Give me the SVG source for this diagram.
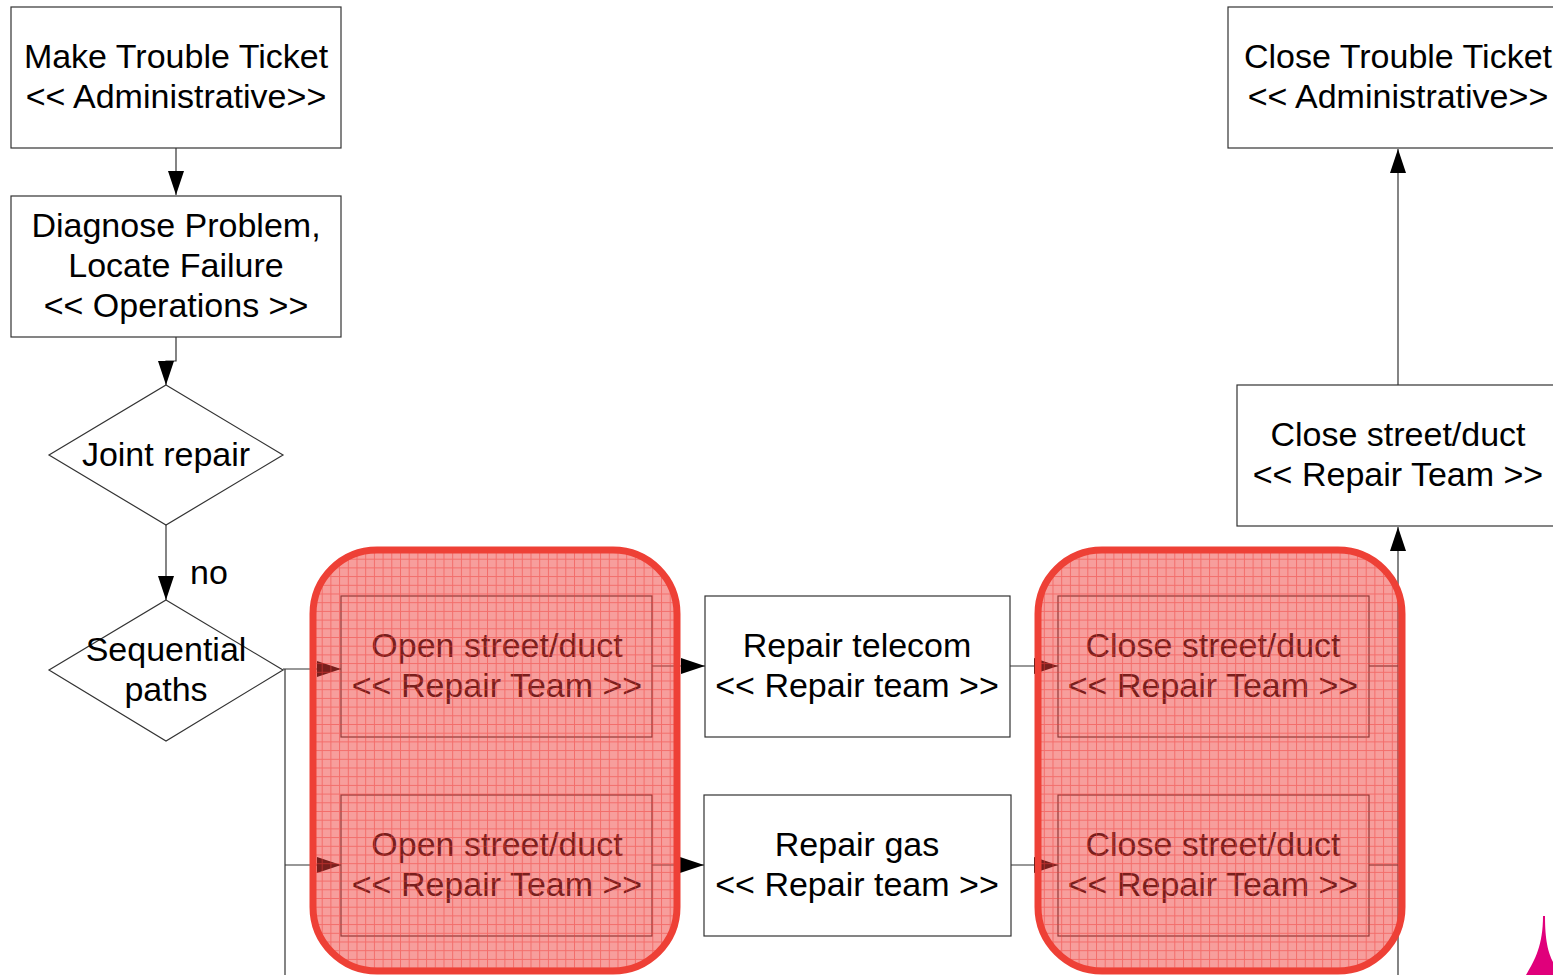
<svg xmlns="http://www.w3.org/2000/svg" width="1553" height="975" viewBox="0 0 1553 975">
<style>
.box{fill:#ffffff;stroke:#333333;stroke-width:1.2}
.t{font-family:"Liberation Sans",Arial,sans-serif;font-size:34px;fill:#000000;text-anchor:middle}
.c{fill:none;stroke:#333333;stroke-width:1.2}
.ov{fill:url(#grid);stroke:#ee4036;stroke-width:7}
</style>
<defs>
<marker id="arr" markerUnits="userSpaceOnUse" markerWidth="24" markerHeight="16" refX="24" refY="8" orient="auto" viewBox="0 0 24 16">
<path d="M0,0 L24,8 L0,16 Z" fill="#000000"/>
</marker>
<pattern id="grid" patternUnits="userSpaceOnUse" width="8.7" height="8.7" x="313" y="550">
<rect width="8.7" height="8.7" fill="rgb(240,62,58)" fill-opacity="0.5"/>
<path d="M0,0.5 H8.7 M0.5,0 V8.7" stroke="rgb(240,62,58)" stroke-opacity="0.5" stroke-width="1"/>
</pattern>
</defs>
<g id="n-make">
<rect class="box" x="11" y="7" width="330" height="141"/>
<text class="t" x="176" y="68">Make Trouble Ticket</text>
<text class="t" x="176" y="108">&lt;&lt; Administrative&gt;&gt;</text>
</g>
<g id="n-diagnose">
<rect class="box" x="11" y="196" width="330" height="141"/>
<text class="t" x="176" y="237">Diagnose Problem,</text>
<text class="t" x="176" y="277">Locate Failure</text>
<text class="t" x="176" y="317">&lt;&lt; Operations &gt;&gt;</text>
</g>
<g id="n-joint">
<polygon class="box" points="166,385 283,455 166,525 49,455"/>
<text class="t" x="166" y="466">Joint repair</text>
</g>
<g id="n-seq">
<polygon class="box" points="166,600 283,670 166,741 49,670"/>
<text class="t" x="166" y="661">Sequential</text>
<text class="t" x="166" y="701">paths</text>
</g>
<g id="n-open1">
<rect class="box" x="341" y="596" width="311" height="141"/>
<text class="t" x="497" y="657">Open street/duct</text>
<text class="t" x="497" y="697">&lt;&lt; Repair Team &gt;&gt;</text>
</g>
<g id="n-open2">
<rect class="box" x="341" y="795" width="311" height="141"/>
<text class="t" x="497" y="856">Open street/duct</text>
<text class="t" x="497" y="896">&lt;&lt; Repair Team &gt;&gt;</text>
</g>
<g id="n-telecom">
<rect class="box" x="705" y="596" width="305" height="141"/>
<text class="t" x="857" y="657">Repair telecom</text>
<text class="t" x="857" y="697">&lt;&lt; Repair team &gt;&gt;</text>
</g>
<g id="n-gas">
<rect class="box" x="704" y="795" width="307" height="141"/>
<text class="t" x="857" y="856">Repair gas</text>
<text class="t" x="857" y="896">&lt;&lt; Repair team &gt;&gt;</text>
</g>
<g id="n-close1">
<rect class="box" x="1058" y="596" width="311" height="141"/>
<text class="t" x="1213" y="657">Close street/duct</text>
<text class="t" x="1213" y="697">&lt;&lt; Repair Team &gt;&gt;</text>
</g>
<g id="n-close2">
<rect class="box" x="1058" y="795" width="311" height="141"/>
<text class="t" x="1213" y="856">Close street/duct</text>
<text class="t" x="1213" y="896">&lt;&lt; Repair Team &gt;&gt;</text>
</g>
<g id="n-closejoint">
<rect class="box" x="1237" y="385" width="330" height="141"/>
<text class="t" x="1398" y="446">Close street/duct</text>
<text class="t" x="1398" y="486">&lt;&lt; Repair Team &gt;&gt;</text>
</g>
<g id="n-closeticket">
<rect class="box" x="1228" y="7" width="340" height="141"/>
<text class="t" x="1398" y="68">Close Trouble Ticket</text>
<text class="t" x="1398" y="108">&lt;&lt; Administrative&gt;&gt;</text>
</g>
<g id="connectors">
<path class="c" d="M176 148 V195" marker-end="url(#arr)"/>
<path class="c" d="M176 337 V361 H166 V385" marker-end="url(#arr)"/>
<path class="c" d="M166 525 V600" marker-end="url(#arr)"/>
<path class="c" d="M283 669 H341" marker-end="url(#arr)"/>
<path class="c" d="M285 669 V975"/>
<path class="c" d="M285 865 H341" marker-end="url(#arr)"/>
<path class="c" d="M652 666 H705" marker-end="url(#arr)"/>
<path class="c" d="M652 865 H704" marker-end="url(#arr)"/>
<path class="c" d="M1010 666 H1058" marker-end="url(#arr)"/>
<path class="c" d="M1011 865 H1058" marker-end="url(#arr)"/>
<path class="c" d="M1369 666 H1398"/>
<path class="c" d="M1369 865 H1398"/>
<path class="c" d="M1398 975 V527" stroke-width="1.8" marker-end="url(#arr)"/>
<path class="c" d="M1398 385 V149" marker-end="url(#arr)"/>
<text class="t" x="209" y="584">no</text>
</g>
<g id="g-parallel-open">
<rect class="ov" x="313" y="550" width="364" height="421" rx="64" ry="64"/>
</g>
<g id="g-parallel-close">
<rect class="ov" x="1038" y="550" width="364" height="421" rx="64" ry="64"/>
</g>
<path id="pink-shape" d="M1543 916 C1543 945 1535 960 1526 975 L1553 975 L1553 962 C1548 952 1545 940 1545 916 Z" fill="#e0007b"/>
</svg>
